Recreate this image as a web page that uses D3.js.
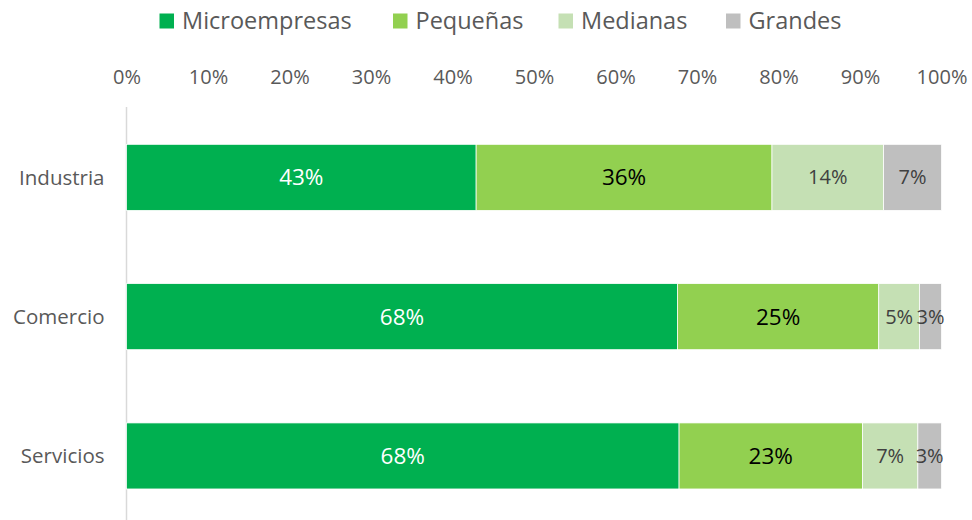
<!DOCTYPE html>
<html lang="es">
<head>
    <meta charset="UTF-8">
    <title>Empresas por sector</title>
    <script src="https://d3js.org/d3.v7.min.js"></script>
    <style>
        * {
            margin: 0;
            padding: 0;
            box-sizing: border-box;
        }

        html, body {
            width: 972px;
            height: 520px;
            overflow: hidden;
            background: #fff;
        }

        svg {
            font-family: "Open Sans", Lato, sans-serif;
        }
    </style>
</head>
<body>
<svg id="chart" width="972" height="520"></svg>
<script>
    const sectors = [ "Industria", "Comercio", "Servicios" ]
    const sizes = [ "Microempresas", "Pequeñas", "Medianas", "Grandes" ]
    const micro = [ 42.9, 67.6, 67.8 ]
    const pequenas = [ 36.3, 24.7, 22.5 ]
    const medianas = [ 13.7, 5.0, 6.8 ]
    const grandes = [ 7.1, 2.7, 2.9 ]
    const ticks = [ 0, 10, 20, 30, 40, 50, 60, 70, 80, 90, 100 ]

    const colors = [ "#00B050", "#92D050", "#C5E0B4", "#BFBFBF" ]
    const labelColors = [ "#FFFFFF", "#000000", "#404040", "#404040" ]
    const labelSizes = [ 22.5, 22.5, 20, 20 ]

    const rows = sectors.map((s, i) => ({
        sector: s,
        Microempresas: micro[i],
        "Pequeñas": pequenas[i],
        Medianas: medianas[i],
        Grandes: grandes[i],
    }))

    const $svg = d3.select("#chart")

    const x = d3.scaleLinear()
        .domain([ 0, 100 ])
        .range([ 126.5, 941.5 ])

    const y = d3.scaleBand()
        .domain(sectors)
        .range([ 107.7, 525.6 ])
        .paddingInner(0.526)
        .paddingOuter(0.263)

    const series = d3.stack().keys(sizes)(rows)

    // top axis, labels only
    const xAxis = $svg.append("g")
        .attr("transform", "translate(0 84)")
        .call(d3.axisTop(x).tickValues(ticks).tickFormat(d => d + "%").tickSize(0).tickPadding(0))
        .attr("font-family", null)
        .attr("font-size", null)
    xAxis.select(".domain").remove()
    xAxis.selectAll("text")
        .attr("fill", "#595959")
        .style("font-size", "20px")

    // left axis line
    $svg.append("line")
        .attr("x1", x(0))
        .attr("x2", x(0))
        .attr("y1", 107)
        .attr("y2", 520)
        .attr("stroke", "#D9D9D9")
        .attr("stroke-width", 1.5)

    // category labels
    const yAxis = $svg.append("g")
        .attr("transform", `translate(${x(0) - 22} 0)`)
        .call(d3.axisLeft(y).tickSize(0).tickPadding(0))
        .attr("font-family", null)
        .attr("font-size", null)
    yAxis.select(".domain").remove()
    yAxis.selectAll("text")
        .attr("fill", "#595959")
        .attr("dy", "0.35em")
        .style("font-size", "20.5px")

    // bars
    const $layers = $svg.append("g")
        .selectAll("g")
        .data(series)
        .join("g")
        .attr("fill", (_, i) => colors[i])

    $layers.selectAll("rect")
        .data(d => d)
        .join("rect")
        .attr("x", d => x(d[0]))
        .attr("y", d => y(d.data.sector))
        .attr("width", d => x(d[1]) - x(d[0]))
        .attr("height", y.bandwidth())
        .attr("stroke", "#fff")
        .attr("stroke-width", 0.75)

    // value labels
    $svg.append("g")
        .selectAll("g")
        .data(series)
        .join("g")
        .each(function (layer, li) {
            d3.select(this).selectAll("text")
                .data(layer)
                .join("text")
                .attr("x", d => (x(d[0]) + x(d[1])) / 2)
                .attr("y", d => y(d.data.sector) + y.bandwidth() / 2)
                .attr("dy", "0.35em")
                .attr("text-anchor", "middle")
                .attr("fill", labelColors[li])
                .style("font-size", labelSizes[li] + "px")
                .text(d => Math.round(d[1] - d[0]) + "%")
        })

    // legend
    const legendX = [ 159.5, 393, 558.5, 726 ]
    const $legend = $svg.append("g")
        .selectAll("g")
        .data(sizes)
        .join("g")
        .attr("transform", (_, i) => `translate(${legendX[i]} 0)`)
    $legend.append("rect")
        .attr("y", 13.5)
        .attr("width", 14.5)
        .attr("height", 15)
        .attr("fill", (_, i) => colors[i])
    $legend.append("text")
        .attr("x", 22.5)
        .attr("y", 28.5)
        .attr("fill", "#595959")
        .style("font-size", "23.5px")
        .text(d => d)
</script>
</body>
</html>
